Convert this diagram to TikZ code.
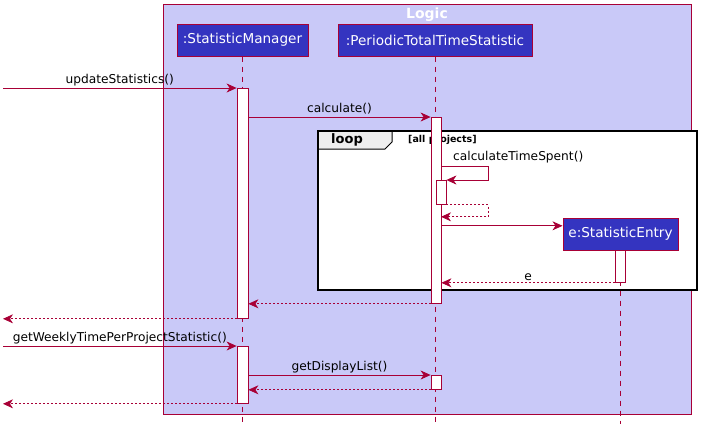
\documentclass[tikz,border=0pt]{standalone}
\usepackage{fontspec}
\setmainfont{DejaVu Sans}
\usetikzlibrary{arrows.meta}

\definecolor{umlred}{HTML}{A80036}
\definecolor{umlblue}{HTML}{3434C0}
\definecolor{umllav}{HTML}{C9C9F8}
\definecolor{umltab}{HTML}{EEEEEE}

\tikzset{
	actor/.style = {draw = umlred, fill = umlblue, text = white, line width = 1pt, minimum height = 32pt, inner xsep = 0pt, font = \fontsize{13.6}{15}\selectfont},
	lifeline/.style = {umlred, dash pattern = on 5pt off 5pt, line width = 0.8pt},
	activ/.style = {draw = umlred, fill = white, line width = 0.8pt, inner sep = 0pt, minimum width = 11pt, anchor = north},
	msg/.style = {umlred, line width = 0.8pt, -{Stealth[length = 10pt, width = 9pt, inset = 3pt]}},
	ret/.style = {msg, dash pattern = on 2pt off 2pt},
	lbl/.style = {text = black, inner sep = 2pt, font = \fontsize{12.2}{14}\selectfont}
}

\begin{document}
\begin{tikzpicture}[x = 1pt, y = -1pt]

	\useasboundingbox (0, 0) rectangle (707, 432);

	% Logic box
	
	\draw [umlred, fill = umllav, line width = 0.8pt] (163, 4) rectangle (691, 414);
	\node [text = white, font = \bfseries\fontsize{14}{16}\selectfont] (title) at (427, 15) {Logic};
	
	% Participants
	
	\node [actor, minimum width = 131pt] (sm) at (242.5, 40) {:StatisticManager};
	\node [actor, minimum width = 194pt] (pt) at (435, 40) {:PeriodicTotalTimeStatistic};
	\coordinate (ext) at (3, 0);
	\coordinate (bot) at (0, 424);
	
	% Loop frame
	
	\draw [fill = white, draw = none] (318, 131) rectangle (697, 290);
	\draw [fill = umltab, line width = 1pt] (318, 131) -- (392, 131) -- (392, 142) -- (385, 149) -- (318, 149) -- cycle;
	\node [font = \bfseries\fontsize{13}{15}\selectfont] (loop) at (347, 140) {loop};
	\node [anchor = west, inner sep = 0pt, font = \bfseries\fontsize{9.5}{11}\selectfont] (guard) at (408, 140) {[all projects]};
	\draw [line width = 2pt] (318, 131) rectangle (697, 290);
	
	\node [actor, minimum width = 115pt] (se) at (620.5, 234) {e:StatisticEntry};
	
	% Lifelines
	
	\draw [lifeline] (sm) -- (sm |- bot);
	\draw [lifeline] (pt) -- (pt |- bot);
	\draw [lifeline] (se) -- (se |- bot);
	
	% Activations
	
	\node [activ, minimum height = 230pt] (smA) at (242.5, 88) {};
	\node [activ, minimum height = 57pt] (smB) at (242.5, 346) {};
	\node [activ, minimum width = 10pt, minimum height = 186pt] (ptA) at (436, 117) {};
	\node [activ, minimum width = 10pt, minimum height = 24pt] (ptN) at (441, 180) {};
	\node [activ, minimum width = 10pt, minimum height = 14pt] (ptB) at (436, 375) {};
	\node [activ, minimum width = 10pt, minimum height = 32pt] (seA) at (620, 250) {};
	
	% Messages
	
	\draw [msg] (ext |- smA.north) -- node [lbl, above] {updateStatistics()} (smA.north west);
	\draw [msg] (smA.east |- ptA.north) -- node [lbl, above] {calculate()} (ptA.north west);
	\draw [msg] ([yshift = 14pt] ptN.north) -- ++(47, 0) |- (ptN.north east);
	\node [lbl, anchor = south west] (self) at ([xshift = 10pt, yshift = 15pt] ptN.north) {calculateTimeSpent()};
	\draw [ret] (ptN.south east) -- ++(42, 0) |- ([yshift = -12pt] ptN.south);
	\coordinate (mk) at ([yshift = -21pt] ptN.south);
	\draw [msg] (mk) -- (mk -| se.west);
	\draw [ret] (seA.south west) -- node [lbl, above] {e} (ptA.east |- seA.south);
	\draw [ret] (ptA.south west) -- (smA.east |- ptA.south);
	\draw [ret] (smA.south west) -- (ext |- smA.south);
	\draw [msg] (ext |- smB.north) -- node [lbl, above] {getWeeklyTimePerProjectStatistic()} (smB.north west);
	\draw [msg] (smB.east |- ptB.north) -- node [lbl, above] {getDisplayList()} (ptB.north west);
	\draw [ret] (ptB.south west) -- (smB.east |- ptB.south);
	\draw [ret] (smB.south west) -- (ext |- smB.south);

\end{tikzpicture}
\end{document}
